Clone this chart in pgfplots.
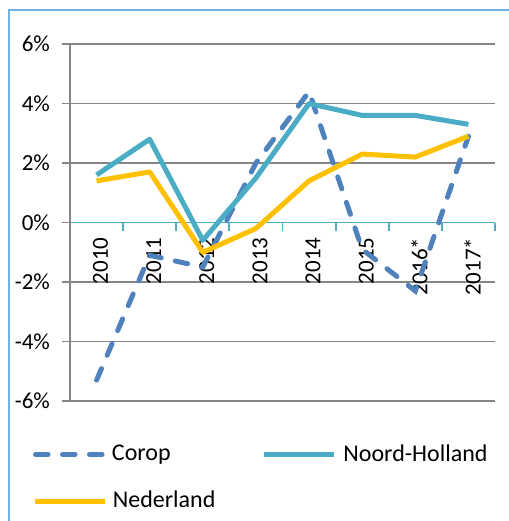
\documentclass[border=0pt]{standalone}
\usepackage{fontspec}
\setmainfont{Carlito}
\usepackage{pgfplots}
\pgfplotsset{compat=1.18}
\definecolor{corop}{RGB}{79,129,189}
\definecolor{nh}{RGB}{75,172,198}
\definecolor{ned}{RGB}{255,192,0}
\definecolor{gridgray}{RGB}{134,134,134}
\definecolor{frameblue}{RGB}{110,180,225}
\begin{document}
\begin{tikzpicture}
\useasboundingbox (-35pt,-60pt) rectangle (219.5pt,200.5pt);
\draw[frameblue, line width=0.8pt] (-30.5pt,-80pt) -- (-30.5pt,195.5pt) -- (240pt,195.5pt);
\begin{axis}[
  scale only axis, width=212.5pt, height=178.5pt,
  at={(0pt,0pt)}, anchor=south west,
  xmin=-0.5, xmax=7.5, ymin=-6, ymax=6,
  axis x line=middle, axis y line=left,
  axis line style={-},
  x axis line style={nh, line width=0.9pt},
  y axis line style={gridgray, line width=0.9pt},
  xtick={0,...,7},
  xticklabels={2010,2011,2012,2013,2014,2015,2016*,2017*},
  major x tick style={draw=none},
  minor xtick={-0.5,0.5,...,7.5},
  minor x tick style={nh, line width=0.9pt},
  xtick align=outside,
  minor tick length=4pt,
  ytick={-6,-4,...,6},
  yticklabels={-6\%,-4\%,-2\%,0\%,2\%,4\%,6\%},
  ymajorgrids, grid style={gridgray, line width=0.9pt},
  ytick align=outside, major tick length=4pt,
  y tick style={gridgray, line width=0.9pt},
  tick label style={font=\fontsize{11.5}{13}\selectfont},
  yticklabel style={xshift=-2.5pt},
  xticklabel style={rotate=90, anchor=east, yshift=-2pt},
  clip=false,
  legend columns=2,
  legend cell align=left,
  legend style={draw=none, fill=none, at={(-0.088,-0.11)}, anchor=north west,
    font=\fontsize{12}{14}\selectfont, inner sep=0pt, row sep=9.5pt},
  legend image code/.code={\draw[#1] (0pt,0pt) -- (35pt,0pt);},
]
\addplot[corop, line width=2.5pt, line cap=round, dash pattern=on 6.3pt off 7.2pt]
  coordinates {(0,-5.3)(1,-1.1)(2,-1.5)(3,2.0)(4,4.4)(5,-0.9)(6,-2.3)(7,2.9)};
\addlegendentry{\makebox[73pt][l]{Corop}}
\addplot[nh, line width=2.5pt, line join=round]
  coordinates {(0,1.6)(1,2.8)(2,-0.6)(3,1.5)(4,4.0)(5,3.6)(6,3.6)(7,3.3)};
\addlegendentry{\hspace{1.2pt}Noord-Holland}
\addplot[ned, line width=2.5pt, line join=round]
  coordinates {(0,1.4)(1,1.7)(2,-1.0)(3,-0.2)(4,1.4)(5,2.3)(6,2.2)(7,2.9)};
\addlegendentry{\hspace{0.4pt}Nederland}
\end{axis}
\end{tikzpicture}
\end{document}
